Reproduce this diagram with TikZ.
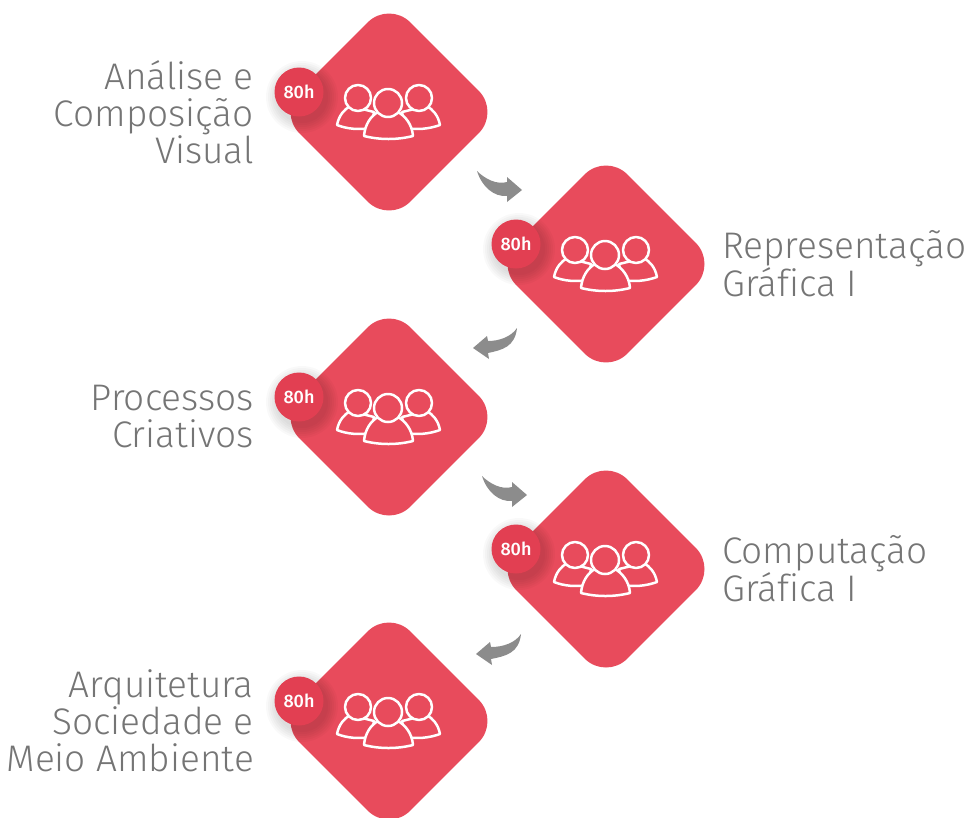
\documentclass[tikz,border=0pt]{standalone}
\usepackage{fontspec}
\setmainfont{Fira Sans}[UprightFont=* Light,BoldFont=* Medium,Ligatures=NoCommon]
\newfontfamily\badgefont{Fira Sans}[UprightFont=* Medium]
\usetikzlibrary{shapes.geometric,calc}
\definecolor{tileRed}{HTML}{E84B5C}
\definecolor{badgeRed}{HTML}{E23F52}
\definecolor{arrowGrey}{HTML}{8C8C8C}
\definecolor{labelGrey}{HTML}{757575}
\tikzset{
  tile/.style={shape=diamond,fill=tileRed,minimum width=222pt,minimum height=222pt,inner sep=0pt,rounded corners=30pt},
  badge/.style={circle,fill=badgeRed,minimum size=49pt,inner sep=0pt,text=white,font=\badgefont\fontsize{18}{18}\selectfont},
  lab/.style={text=labelGrey,font=\fontsize{37}{37}\selectfont,inner sep=0pt},
  labL/.style={lab,align=right,anchor=east},
  labR/.style={lab,align=left,anchor=west},
  person/.style={draw=white,fill=tileRed,line width=2.5pt,line join=round},
  flow/.style={fill=arrowGrey,draw=none}
}
\newcommand{\people}[1]{%
  \begin{scope}[shift={(#1)}]
    \path[person] (-52,13) .. controls (-50,3) and (-45,-2) .. (-39,-6) -- (-15,0) -- (-18,16) .. controls (-30,18) and (-42,17) .. (-52,13) -- cycle;
    \path[person] (-31,-14) circle (13pt);
    \path[person] (51,13) .. controls (49,3) and (44,-2) .. (38,-6) -- (13,0) -- (16,16) .. controls (28,18) and (40,17) .. (51,13) -- cycle;
    \path[person] (30,-14) circle (13pt);
    \path[person] (-25,24) .. controls (-24,12) and (-18,4) .. (-11,0) -- (9,0) .. controls (16,4) and (23,12) .. (24,24) .. controls (8,28) and (-9,28) .. (-25,24) -- cycle;
    \path[person] (-1,-9) circle (14pt);
  \end{scope}}
\newcommand{\softshadow}[1]{%
  \foreach \s in {36,34,32,30,28,26}{\fill[black,opacity=0.025] ($#1+(3,5)$) circle (\s pt);}}
\begin{document}
\begin{tikzpicture}[x=1pt,y=-1pt]
\useasboundingbox (0,0) rectangle (976,817);
\node[tile] (d1) at (389,112) {};
\node[tile] (d2) at (606,264) {};
\node[tile] (d3) at (389,417) {};
\node[tile] (d4) at (606,569) {};
\node[tile] (d5) at (389,721) {};
\foreach \d in {d1,d2,d3,d4,d5}{
  \people{\d}
  \softshadow{(\d)+(-90,-20)}
  \node[badge] (b\d) at ($(\d)+(-90,-20)$) {80h};
}
% connectors
\coordinate (t1) at ($(d1)+(88,59)$);  \coordinate (h1) at ($(d2)+(-84,-74)$);
\coordinate (t2) at ($(d2)+(-89,64)$); \coordinate (h2) at ($(d3)+(84,-69)$);
\coordinate (t3) at ($(d3)+(93,59)$);  \coordinate (h3) at ($(d4)+(-79,-74)$);
\coordinate (t4) at ($(d4)+(-85,65)$); \coordinate (h4) at ($(d5)+(87,-67)$);
\foreach \t/\h in {t1/h1,t3/h3}{
  \fill[flow] (\t) .. controls ($(\t)+(8,8)$) and ($(\t)+(20,14)$) .. ($(\h)+(-15,-8)$)
    -- ($(\h)+(-15,-13)$) -- (\h) -- ($(\h)+(-15,12)$) -- ($(\h)+(-15,6)$)
    .. controls ($(\t)+(17,26)$) and ($(\t)+(5,16)$) .. (\t) -- cycle;
}
\foreach \t/\h in {t2/h2,t4/h4}{
  \fill[flow] (\t) .. controls ($(\t)+(-6,9)$) and ($(\t)+(-18,13)$) .. ($(\h)+(15,-7)$)
    -- ($(\h)+(14,-12)$) -- (\h) -- ($(\h)+(16,11)$) -- ($(\h)+(15,5)$)
    .. controls ($(\t)+(-15,22)$) and ($(\t)+(-2,19)$) .. (\t) -- cycle;
}
% labels
\node[labL] (l1) at (254,112) {Análise e\\Composição\\Visual};
\node[labR] (l2) at (722,264) {Representação\\Gráfica I};
\node[labL] (l3) at (254,417) {Processos\\Criativos};
\node[labR] (l4) at (722,569) {Computação\\Gráfica I};
\node[labL] (l5) at (254,721) {Arquitetura\\Sociedade e\\Meio Ambiente};
\end{tikzpicture}
\end{document}
